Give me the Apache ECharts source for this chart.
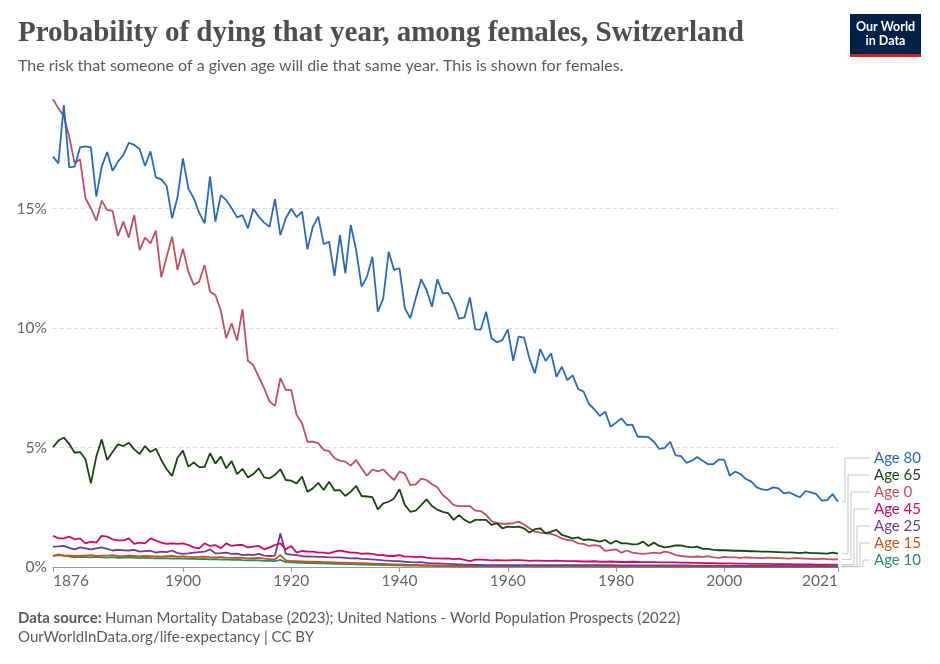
<!DOCTYPE html>
<html>
<head>
<meta charset="utf-8">
<script src="https://cdn.jsdelivr.net/npm/echarts@6/dist/echarts.min.js"></script>
<style>
html,body{margin:0;padding:0;background:#fff;}
#chart{width:940px;height:664px;}
</style>
</head>
<body>
<div id="chart"></div>
<script>
const years = [];
for (let y = 1876; y <= 2021; y++) years.push(y);

const xTickLabels = [1876, 1900, 1920, 1940, 1960, 1980, 2000, 2021];
const yTickLabels = [0, 5, 10, 15];

const seriesNames = ['Age 80', 'Age 65', 'Age 0', 'Age 45', 'Age 25', 'Age 15', 'Age 10'];

const age80 = [17.17,16.89,19.33,16.72,16.75,17.56,17.6,17.56,15.5,16.75,17.36,16.58,16.96,17.24,17.75,17.66,17.49,16.78,17.39,16.3,16.22,15.94,14.59,15.47,17.1,15.83,15.43,14.83,14.38,16.33,14.45,15.56,15.35,15.01,14.63,14.72,14.17,14.99,14.66,14.41,14.24,15.39,13.89,14.59,14.99,14.64,14.87,13.29,14.24,14.66,13.51,13.61,12.18,13.89,12.29,14.31,13.26,11.73,12.15,12.98,10.68,11.24,13.19,12.43,12.5,10.82,10.41,11.24,12.04,11.59,10.89,12.04,11.45,11.47,11.03,10.39,10.44,11.28,9.94,9.93,10.68,9.57,9.4,9.49,9.94,8.63,9.64,9.6,8.73,8.1,9.12,8.62,8.94,7.96,8.38,7.82,8.02,7.45,7.34,6.82,6.6,6.32,6.5,5.87,6.04,6.22,5.94,5.96,5.45,5.45,5.43,5.24,4.94,4.98,5.24,4.67,4.64,4.36,4.45,4.6,4.45,4.3,4.31,4.5,4.48,3.82,3.99,3.89,3.68,3.57,3.33,3.25,3.22,3.33,3.29,3.08,3.12,3.01,2.92,3.18,3.12,3.05,2.78,2.8,3.05,2.73];

const age65 = [5.01,5.29,5.41,5.15,4.78,4.81,4.51,3.5,4.62,5.34,4.48,4.81,5.13,5.06,5.2,4.92,4.73,5.06,4.81,4.95,4.48,4.09,3.81,4.57,4.87,4.2,4.37,4.18,4.18,4.76,4.33,4.62,4.13,4.43,3.89,4.11,3.75,3.89,4.13,3.75,3.71,3.85,4.09,3.64,3.61,3.5,3.78,3.15,3.29,3.52,3.22,3.57,3.2,3.22,2.97,3.15,3.39,2.97,2.95,2.92,2.41,2.66,2.73,2.87,3.25,2.59,2.31,2.36,2.59,2.83,2.55,2.4,2.31,2.25,1.97,2.17,1.97,1.85,1.97,1.97,1.97,1.76,1.83,1.62,1.69,1.67,1.69,1.62,1.44,1.58,1.62,1.41,1.48,1.55,1.34,1.27,1.2,1.24,1.13,1.16,1.11,1.06,1.13,0.97,1.1,0.99,0.99,0.95,0.96,1.06,0.88,1.02,0.88,0.82,0.85,0.9,0.9,0.85,0.82,0.85,0.76,0.76,0.72,0.7,0.7,0.69,0.68,0.68,0.67,0.66,0.65,0.64,0.64,0.63,0.62,0.61,0.61,0.6,0.58,0.61,0.58,0.58,0.57,0.56,0.6,0.56];

const age0 = [19.57,19.19,18.87,18.0,16.89,17.06,15.43,15.01,14.49,15.33,14.94,14.9,13.85,14.45,13.78,14.73,13.26,13.78,13.54,14.07,12.12,12.98,13.82,12.43,13.32,12.36,11.8,11.94,12.64,11.52,11.38,10.72,9.57,10.2,9.47,10.78,8.63,8.45,7.96,7.48,6.92,6.74,7.9,7.41,7.41,6.36,6.01,5.24,5.25,5.18,4.9,4.85,4.55,4.45,4.41,4.24,4.48,4.13,3.82,4.08,4.0,4.08,3.84,3.64,4.0,3.9,3.43,3.46,3.7,3.64,3.46,3.34,3.01,2.83,2.59,2.55,2.55,2.55,2.36,2.34,2.18,1.92,1.83,1.81,1.81,1.83,1.9,1.78,1.62,1.48,1.44,1.41,1.39,1.31,1.2,1.13,1.11,0.99,0.97,0.88,0.92,0.88,0.67,0.71,0.74,0.6,0.69,0.6,0.57,0.55,0.57,0.6,0.57,0.64,0.6,0.5,0.46,0.44,0.42,0.44,0.42,0.45,0.4,0.38,0.42,0.4,0.4,0.38,0.4,0.39,0.38,0.37,0.39,0.38,0.37,0.36,0.35,0.37,0.36,0.35,0.34,0.33,0.35,0.33,0.32,0.32];

const age45 = [1.31,1.2,1.2,1.27,1.16,1.2,0.99,1.06,1.02,1.3,1.27,1.16,1.11,1.11,1.2,0.97,1.02,0.99,1.2,1.11,1.02,0.97,0.99,0.97,0.99,0.92,0.82,0.78,0.99,0.88,0.92,0.78,0.99,0.88,0.92,0.92,0.82,0.85,0.88,0.74,0.82,0.92,0.99,0.74,0.88,0.6,0.67,0.64,0.64,0.6,0.6,0.57,0.64,0.69,0.64,0.6,0.6,0.55,0.57,0.55,0.5,0.5,0.46,0.46,0.5,0.43,0.43,0.41,0.43,0.39,0.36,0.36,0.35,0.36,0.33,0.35,0.3,0.25,0.31,0.31,0.3,0.28,0.29,0.28,0.28,0.29,0.29,0.28,0.26,0.27,0.27,0.26,0.26,0.27,0.26,0.25,0.25,0.24,0.23,0.23,0.24,0.22,0.22,0.23,0.22,0.21,0.21,0.22,0.21,0.2,0.2,0.2,0.19,0.19,0.19,0.19,0.18,0.18,0.17,0.17,0.16,0.16,0.16,0.15,0.15,0.15,0.14,0.14,0.14,0.13,0.13,0.13,0.13,0.12,0.12,0.12,0.12,0.11,0.11,0.11,0.11,0.1,0.1,0.1,0.1,0.1];

const age25 = [0.85,0.86,0.88,0.8,0.74,0.82,0.78,0.74,0.78,0.82,0.76,0.69,0.72,0.7,0.69,0.72,0.64,0.66,0.68,0.6,0.64,0.62,0.69,0.58,0.55,0.57,0.6,0.62,0.64,0.74,0.57,0.58,0.6,0.55,0.56,0.5,0.52,0.5,0.55,0.48,0.46,0.48,1.4,0.55,0.52,0.5,0.45,0.44,0.43,0.42,0.42,0.4,0.4,0.4,0.38,0.36,0.37,0.34,0.33,0.32,0.3,0.28,0.27,0.25,0.25,0.22,0.2,0.19,0.2,0.17,0.15,0.15,0.14,0.13,0.12,0.11,0.1,0.1,0.09,0.09,0.08,0.08,0.08,0.08,0.08,0.08,0.08,0.08,0.08,0.08,0.08,0.08,0.08,0.08,0.08,0.08,0.08,0.08,0.08,0.08,0.08,0.08,0.08,0.08,0.07,0.07,0.07,0.07,0.07,0.07,0.07,0.07,0.07,0.07,0.07,0.07,0.07,0.07,0.06,0.06,0.06,0.06,0.06,0.06,0.06,0.05,0.05,0.05,0.05,0.05,0.05,0.05,0.05,0.05,0.04,0.04,0.04,0.04,0.04,0.04,0.04,0.04,0.04,0.04,0.04,0.04];

const age15 = [0.46,0.5,0.48,0.47,0.46,0.48,0.47,0.5,0.46,0.47,0.48,0.5,0.46,0.45,0.47,0.46,0.44,0.46,0.45,0.44,0.43,0.45,0.46,0.43,0.44,0.42,0.41,0.42,0.43,0.41,0.4,0.41,0.39,0.38,0.39,0.38,0.36,0.37,0.38,0.35,0.33,0.32,0.5,0.28,0.25,0.24,0.23,0.22,0.22,0.21,0.2,0.2,0.19,0.18,0.18,0.17,0.16,0.16,0.15,0.14,0.13,0.13,0.12,0.11,0.11,0.1,0.09,0.09,0.08,0.08,0.07,0.07,0.06,0.06,0.05,0.05,0.05,0.05,0.05,0.05,0.05,0.05,0.05,0.05,0.05,0.05,0.05,0.05,0.05,0.05,0.05,0.05,0.05,0.05,0.05,0.05,0.05,0.05,0.04,0.04,0.04,0.04,0.04,0.04,0.04,0.04,0.04,0.04,0.04,0.04,0.04,0.04,0.04,0.04,0.04,0.03,0.03,0.03,0.03,0.03,0.03,0.03,0.03,0.03,0.03,0.03,0.03,0.03,0.03,0.02,0.02,0.02,0.02,0.02,0.02,0.02,0.02,0.02,0.02,0.02,0.02,0.02,0.02,0.02];

const age10 = [0.46,0.53,0.48,0.44,0.4,0.42,0.41,0.4,0.42,0.4,0.39,0.41,0.38,0.39,0.4,0.38,0.37,0.39,0.37,0.36,0.37,0.36,0.35,0.36,0.35,0.34,0.34,0.33,0.34,0.32,0.33,0.31,0.32,0.3,0.31,0.29,0.28,0.29,0.28,0.26,0.26,0.25,0.3,0.2,0.19,0.18,0.17,0.16,0.16,0.15,0.15,0.14,0.13,0.13,0.12,0.12,0.11,0.1,0.1,0.09,0.09,0.08,0.08,0.07,0.07,0.06,0.06,0.06,0.05,0.05,0.05,0.04,0.04,0.04,0.04,0.03,0.03,0.03,0.03,0.03,0.03,0.03,0.03,0.03,0.03,0.03,0.03,0.03,0.03,0.03,0.03,0.03,0.03,0.03,0.03,0.03,0.03,0.03,0.02,0.02,0.02,0.02,0.02,0.02,0.02,0.02,0.02,0.02,0.02,0.02,0.02,0.02,0.02,0.02,0.02,0.02,0.02,0.02,0.02,0.02,0.02,0.02,0.02,0.02,0.01,0.01,0.01,0.01,0.01,0.01,0.01,0.01,0.01,0.01,0.01,0.01,0.01,0.01,0.01,0.01,0.01,0.01,0.01,0.01,0.01,0.01];

const seriesValues = [age80, age65, age0, age45, age25, age15, age10];
const colors = ['#286BBB', '#18470F', '#C15065', '#CF0A66', '#6D3E91', '#C05917', '#2A8A6C'];

const chart = echarts.init(document.getElementById('chart'), null, {renderer: 'canvas'});
const FONT = 'Lato, "Noto Sans", sans-serif';

const series = seriesNames.map((name, i) => ({
  name: name,
  type: 'line',
  data: years.map((y, k) => [y, seriesValues[i][k]]),
  showSymbol: false,
  symbol: 'none',
  lineStyle: {width: 1.8, color: colors[i]},
  itemStyle: {color: colors[i]},
  z: 10 - i,
  animation: false
}));

const option = {
  animation: false,
  backgroundColor: '#fff',
  grid: {left: 53, right: 102, top: 89, bottom: 97, containLabel: false},
  xAxis: {
    type: 'value',
    min: 1876, max: 2021,
    axisLine: {show: true, lineStyle: {color: '#999', width: 1}},
    axisTick: {show: true, customValues: xTickLabels, length: 5, lineStyle: {color: '#999'}},
    axisLabel: {
      customValues: xTickLabels,
      color: '#666', fontFamily: FONT, fontSize: 15.5, margin: 6,
      alignMinLabel: 'left', alignMaxLabel: 'right',
      formatter: v => String(v)
    },
    splitLine: {show: false}
  },
  yAxis: {
    type: 'value',
    min: 0, max: 20, interval: 5,
    axisLine: {show: false},
    axisTick: {show: false},
    axisLabel: {
      color: '#666', fontFamily: FONT, fontSize: 15.5, margin: 6,
      formatter: v => (yTickLabels.indexOf(v) >= 0 ? v + '%' : '')
    },
    splitLine: {show: true, lineStyle: {type: [4, 3], color: ['#dcdcdc','#dcdcdc','#dcdcdc','#dcdcdc','rgba(0,0,0,0)'], width: 1}}
  },
  series: series,
  graphic: []
};
chart.setOption(option);

const labelY = [458, 475, 492, 509, 526, 543, 560];
const elbowX = [845, 848, 851, 854, 857, 860, 863];
const graphics = [
  {type: 'text', left: 18, top: 19, style: {text: 'Probability of dying that year, among females, Switzerland', fill: '#4e4e4e', font: 'bold 29px "Liberation Serif", "DejaVu Serif", serif'}},
  {type: 'text', left: 18, top: 58, style: {text: 'The risk that someone of a given age will die that same year. This is shown for females.', fill: '#5b5b5b', font: '16px ' + FONT}},
  {type: 'rect', shape: {x: 850, y: 14, width: 71, height: 40}, style: {fill: '#002147'}},
  {type: 'rect', shape: {x: 850, y: 54, width: 71, height: 3}, style: {fill: '#CE261E'}},
  {type: 'text', style: {x: 885.5, y: 20, text: 'Our World\nin Data', fill: '#fff', font: 'bold 12.5px ' + FONT, align: 'center', lineHeight: 14}},
  {type: 'text', left: 18, top: 611, style: {rich: {b: {fontWeight: 'bold', fontSize: 15, fontFamily: FONT, fill: '#5b5b5b'}, n: {fontSize: 15, fontFamily: FONT, fill: '#5b5b5b'}}, text: '{b|Data source:} {n|Human Mortality Database (2023); United Nations - World Population Prospects (2022)}'}},
  {type: 'text', left: 18, top: 630, style: {text: 'OurWorldInData.org/life-expectancy | CC BY', fill: '#5b5b5b', font: '15px ' + FONT}}
];
seriesNames.forEach((name, i) => {
  const vals = seriesValues[i];
  const end = chart.convertToPixel({gridIndex: 0}, [years[years.length - 1], vals[vals.length - 1]]);
  const sx = end[0] + 4;
  graphics.push({
    type: 'polyline',
    shape: {points: [[sx, end[1]], [elbowX[i], end[1]], [elbowX[i], labelY[i]], [870, labelY[i]]]},
    style: {stroke: '#c8c8c8', lineWidth: 1, fill: null}
  });
  graphics.push({
    type: 'text',
    style: {x: 874, y: labelY[i], text: name, fill: colors[i], font: '15px ' + FONT, verticalAlign: 'middle'}
  });
});
chart.setOption({graphic: graphics});
</script>
</body>
</html>
